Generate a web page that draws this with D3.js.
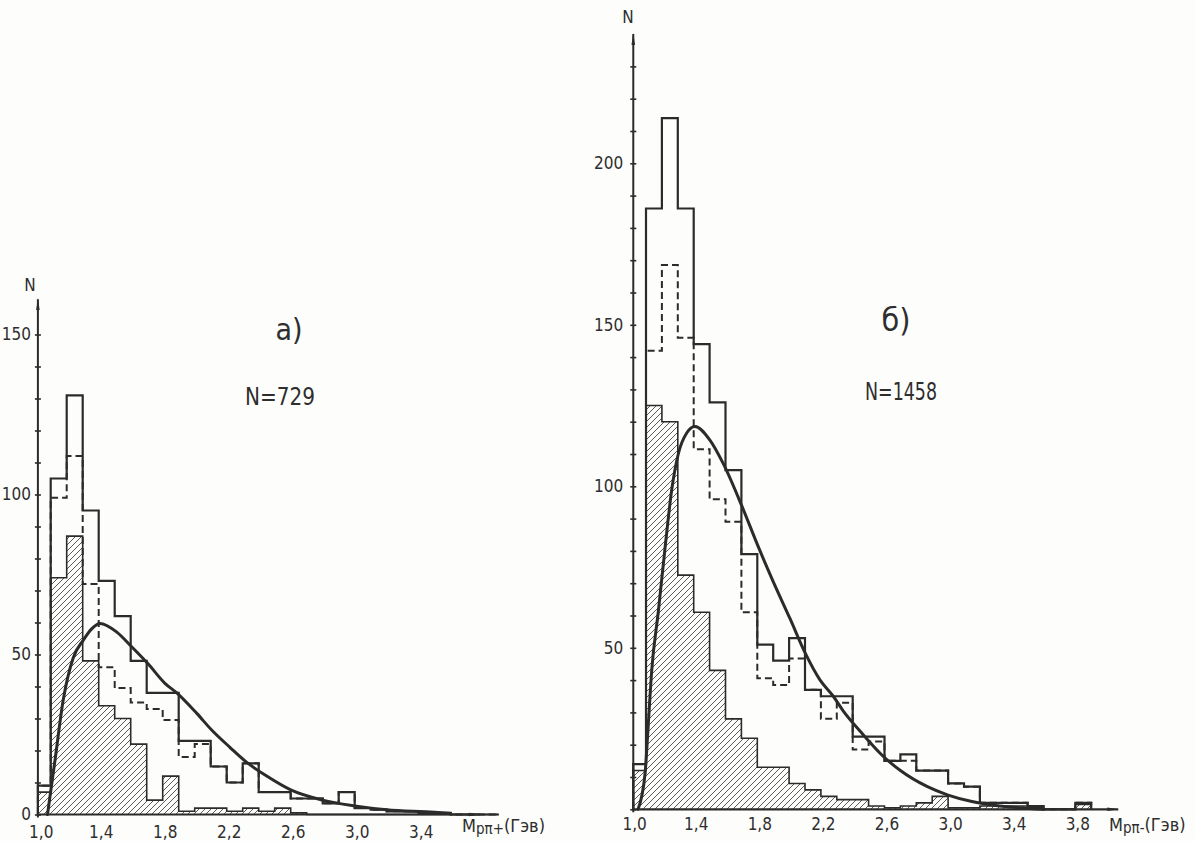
<!DOCTYPE html>
<html>
<head>
<meta charset="utf-8">
<script src="https://cdn.jsdelivr.net/npm/d3@7"></script>
<style>
  html, body { margin: 0; padding: 0; background: #fdfdfb; }
  svg { display: block; }
  text { font-family: "Liberation Sans Narrow", "DejaVu Sans Condensed", "Liberation Sans", sans-serif; fill: #2e2e2e; }
</style>
</head>
<body>
<svg id="chart" width="1195" height="841"></svg>
<script>
// ---- bin edges, GeV (0.1 GeV bins; the first one starts at the axis) ----
const binEdges = [1.02, 1.1, 1.2, 1.3, 1.4, 1.5, 1.6, 1.7, 1.8, 1.9, 2.0, 2.1, 2.2, 2.3, 2.4,
                  2.5, 2.6, 2.7, 2.8, 2.9, 3.0, 3.1, 3.2, 3.3, 3.4, 3.5, 3.6, 3.7, 3.8, 3.9];

// ---- panel a): p pi+ mass spectrum, N = 729 ----
const totalA   = [9, 105, 131, 95, 73, 62, 48, 38, 38, 23, 23, 15, 10, 16, 7, 7, 5, 5, 3.5, 7,
                  2, 1.5, 1, 1, 0.5, 0.5, 0, 0, 0];
const dashedA  = [9, 99, 112, 72, 46, 39.5, 35, 33, 29.5, 18, 22, 15, 10, 16, 7, 7, 5, 5, 3.5, 7,
                  2, 1.5, 1, 1, 0.5, 0.5, 0, 0, 0];
const hatchedA = [7, 74, 87, 48, 34, 30, 22, 4.5, 12, 1, 2, 2, 1, 2, 1, 2, 0.5, 0, 0, 0,
                  0, 0, 0, 0, 0, 0, 0, 0, 0];
const curveMassA = [1.08, 1.127, 1.179, 1.241, 1.304, 1.356, 1.408, 1.513, 1.606, 1.71, 1.814,
                    1.888, 2.013, 2.106, 2.22, 2.32, 2.45, 2.6, 2.8, 3.0, 3.2, 3.5, 3.6];
const curveValA  = [0, 17, 36, 49, 54.5, 58, 59.7, 57, 52.4, 47, 41,
                    38, 31.6, 26.4, 21, 16.5, 12, 7.7, 4.5, 2.7, 1.5, 0.7, 0.3];
const xTicksA = [1.0, 1.4, 1.8, 2.2, 2.6, 3.0, 3.4];
const yLabelsA = [0, 50, 100, 150];

// ---- panel б): p pi- mass spectrum, N = 1458 ----
const totalB   = [14, 186, 214, 186, 144, 126, 105, 79, 51, 46, 53, 37, 35, 35, 22.5, 22.5, 15, 17,
                  12, 12, 8, 7, 2, 2, 2, 1, 0, 0, 2];
const dashedB  = [14, 142, 168.5, 146, 111.5, 96, 89, 61, 40.6, 38.5, 46.7, 37, 28, 33, 18.5, 21, 15, 15,
                  12, 12, 8, 7, 2, 2, 2, 1, 0, 0, 2];
const hatchedB = [12, 125, 120, 72.5, 61, 43, 28, 22, 13, 13, 8, 6, 4, 3, 3, 1, 0.5, 1,
                  2, 4, 0.5, 0.5, 1, 1, 1, 0.5, 0, 0, 1.5];
const curveMassB = [1.05, 1.094, 1.114, 1.136, 1.177, 1.22, 1.262, 1.303, 1.356, 1.408, 1.502, 1.586,
                    1.702, 1.806, 1.90, 2.006, 2.10, 2.195, 2.278, 2.34, 2.45, 2.59, 2.70, 2.87, 3.0,
                    3.15, 3.3, 3.45, 3.6];
const curveValB  = [0, 11, 26, 43, 61, 81, 99, 110, 116.5, 118.5, 114.3, 107,
                    94, 81.3, 70.5, 59, 48.5, 40, 35, 30.5, 24, 16.5, 12, 7, 4.4,
                    2.4, 1.2, 0.5, 0];
const xTicksB = [1.0, 1.4, 1.8, 2.2, 2.6, 3.0, 3.4, 3.8];
const yLabelsB = [50, 100, 150, 200];

const INK = "#2b2b2b";

const svg = d3.select("#chart");
const defs = svg.append("defs");

// diagonal hatching for the shaded histogram
const hatch = defs.append("pattern")
  .attr("id", "hatch")
  .attr("patternUnits", "userSpaceOnUse")
  .attr("width", 6).attr("height", 6);
hatch.append("path")
  .attr("d", "M-1,1 l2,-2 M0,6 l6,-6 M5,7 l2,-2")
  .attr("stroke", "#484848").attr("stroke-width", 0.9);

// slim arrowhead for axis ends
defs.append("marker")
  .attr("id", "arrow")
  .attr("viewBox", "0 0 12 6")
  .attr("refX", 11).attr("refY", 3)
  .attr("markerWidth", 12).attr("markerHeight", 6)
  .attr("markerUnits", "userSpaceOnUse")
  .attr("orient", "auto")
  .append("path")
  .attr("d", "M0,1.2 L12,3 L0,4.8 Z")
  .attr("fill", INK);

const panels = [
  {
    total: totalA, dashed: dashedA, hatched: hatchedA,
    curveMass: curveMassA, curveVal: curveValA,
    xTicks: xTicksA, yLabels: yLabelsA,
    xRange: [34.7, 354.7], yRef: 150, yRange: [814.5, 334.5],
    axisTop: 161, xEnd: 3.78, yLabelPad: 4, xLabelPad: 11, firstLabelDx: 6,
    letter: "a)", letterPos: [289, 340], letterSize: 30,
    count: "N=729", countPos: [280, 405], countWidth: 70,
    nPos: [30, 291],
    title: ["M", "pπ+", "(Гэв)"], titlePos: [462, 832]
  },
  {
    total: totalB, dashed: dashedB, hatched: hatchedB,
    curveMass: curveMassB, curveVal: curveValB,
    xTicks: xTicksB, yLabels: yLabelsB,
    xRange: [630.1, 948.1], yRef: 200, yRange: [809.3, 163.3],
    axisTop: 240, xEnd: 4.07, yLabelPad: 7, xLabelPad: 9, firstLabelDx: 4,
    letter: "б)", letterPos: [896, 331], letterSize: 32,
    count: "N=1458", countPos: [901, 400], countWidth: 72,
    nPos: [628, 23],
    title: ["M", "pπ-", "(Гэв)"], titlePos: [1109, 831]
  }
];

panels.forEach(p => {
  const x = d3.scaleLinear().domain([1.0, 3.0]).range(p.xRange);
  const y = d3.scaleLinear().domain([0, p.yRef]).range(p.yRange);
  const g = svg.append("g");
  const origin = binEdges[0];

  // step outline of a histogram: up from the baseline, across every bin, back down
  const steps = vals => {
    const pts = [[binEdges[0], 0]];
    vals.forEach((v, i) => { pts.push([binEdges[i], v], [binEdges[i + 1], v]); });
    pts.push([binEdges[vals.length], 0]);
    return pts;
  };
  const line = d3.line().x(d => x(d[0])).y(d => y(d[1]));
  const area = d3.area().x(d => x(d[0])).y0(y(0)).y1(d => y(d[1]));

  // shaded histogram
  g.append("path").attr("d", area(steps(p.hatched)))
    .attr("fill", "url(#hatch)").attr("stroke", "none");
  g.append("path").attr("d", line(steps(p.hatched)))
    .attr("fill", "none").attr("stroke", INK).attr("stroke-width", 1.6)
    .attr("stroke-linejoin", "miter");

  // full-sample histogram (solid) and selected sample (dashed)
  g.append("path").attr("d", line(steps(p.total)))
    .attr("fill", "none").attr("stroke", INK).attr("stroke-width", 2.2);
  g.append("path").attr("d", line(steps(p.dashed)))
    .attr("fill", "none").attr("stroke", INK).attr("stroke-width", 2)
    .attr("stroke-dasharray", "7,4");

  // smooth theoretical curve
  const curveLine = d3.line()
    .x((d, i) => x(p.curveMass[i]))
    .y(d => y(d))
    .curve(d3.curveMonotoneX);
  g.append("path").attr("d", curveLine(p.curveVal))
    .attr("fill", "none").attr("stroke", INK).attr("stroke-width", 3)
    .attr("stroke-linecap", "round");

  // vertical axis: minor ticks every 10 events, labels every 50
  const yAxis = d3.axisLeft(y)
    .tickValues(d3.range(0, p.axisTop - 5, 10))
    .tickSizeInner(3).tickSizeOuter(0)
    .tickPadding(p.yLabelPad)
    .tickFormat(d => p.yLabels.includes(d) ? String(d) : "");
  const ya = g.append("g").attr("transform", `translate(${x(origin)},0)`).call(yAxis);
  ya.select(".domain").remove();
  ya.selectAll(".tick line").attr("x1", -3).attr("x2", 3)
    .attr("stroke", INK).attr("stroke-width", 1.6);
  ya.selectAll(".tick text")
    .style("font-family", "'Liberation Sans Narrow', 'DejaVu Sans Condensed', sans-serif")
    .style("font-size", "17px").attr("fill", "#2e2e2e");
  g.append("line")
    .attr("x1", x(origin)).attr("x2", x(origin))
    .attr("y1", y(0) + 3).attr("y2", y(p.axisTop))
    .attr("stroke", INK).attr("stroke-width", 2)
    .attr("marker-end", "url(#arrow)");

  // horizontal axis
  g.append("line")
    .attr("x1", x(origin)).attr("x2", x(p.xEnd))
    .attr("y1", y(0)).attr("y2", y(0))
    .attr("stroke", INK).attr("stroke-width", 2.2)
    .attr("marker-end", "url(#arrow)");
  const xAxis = d3.axisBottom(x)
    .tickValues(p.xTicks)
    .tickSize(0).tickPadding(p.xLabelPad)
    .tickFormat(d => d.toFixed(1).replace(".", ","));
  const xa = g.append("g").attr("transform", `translate(0,${y(0)})`).call(xAxis);
  xa.select(".domain").remove();
  xa.selectAll(".tick text")
    .attr("dx", d => d === 1.0 ? p.firstLabelDx : 2)
    .style("font-family", "'Liberation Sans Narrow', 'DejaVu Sans Condensed', sans-serif")
    .style("font-size", "17px").attr("fill", "#2e2e2e");

  // axis names
  g.append("text").attr("x", p.nPos[0]).attr("y", p.nPos[1])
    .attr("text-anchor", "middle").style("font-size", "17px").text("N");
  const t = g.append("text").attr("x", p.titlePos[0]).attr("y", p.titlePos[1])
    .style("font-size", "18px");
  t.append("tspan").text(p.title[0]);
  t.append("tspan").attr("dy", 2).style("font-size", "15px").text(p.title[1]);
  t.append("tspan").attr("dy", -2).text(p.title[2]);

  // panel letter and sample size
  g.append("text").attr("x", p.letterPos[0]).attr("y", p.letterPos[1])
    .attr("text-anchor", "middle")
    .style("font-family", "'DejaVu Sans Condensed', 'Liberation Sans Narrow', sans-serif")
    .style("font-size", p.letterSize + "px").text(p.letter);
  g.append("text").attr("x", p.countPos[0]).attr("y", p.countPos[1])
    .attr("text-anchor", "middle")
    .style("font-size", "24px")
    .attr("textLength", p.countWidth).attr("lengthAdjust", "spacingAndGlyphs")
    .text(p.count);
});
</script>
</body>
</html>
